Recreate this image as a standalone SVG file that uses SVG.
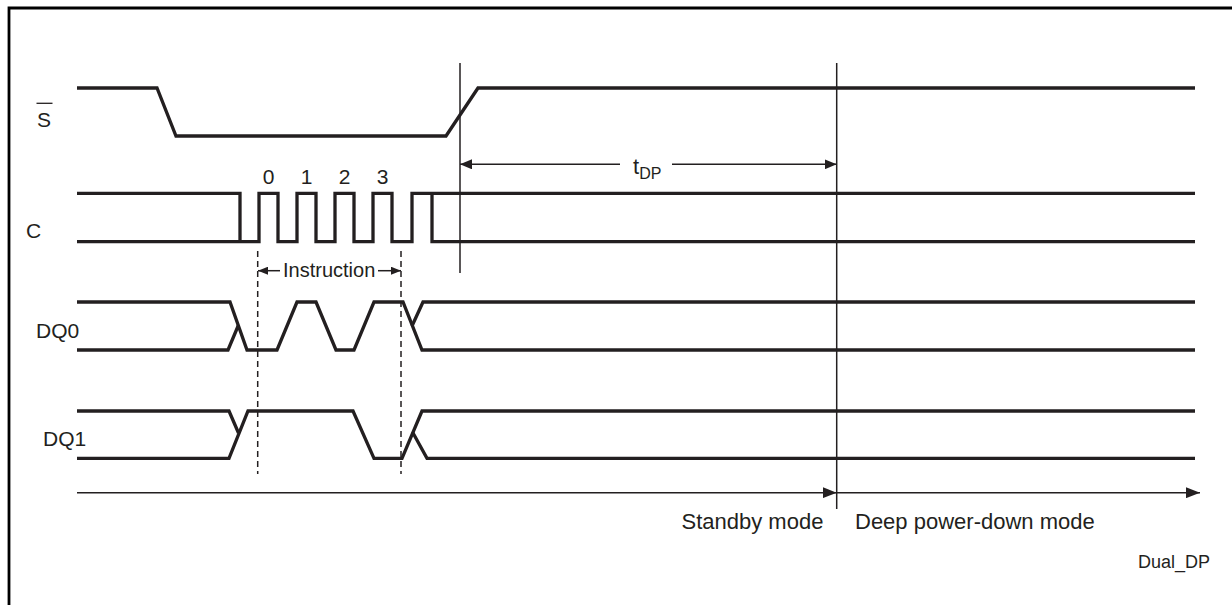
<svg xmlns="http://www.w3.org/2000/svg" width="1232" height="605" viewBox="0 0 1232 605">
<style>
.sig{fill:none;stroke:#231f20;stroke-width:3.3;stroke-linejoin:miter}
.thin{fill:none;stroke:#231f20;stroke-width:1.5}
.dash{fill:none;stroke:#231f20;stroke-width:1.5;stroke-dasharray:6,4}
.frame{fill:none;stroke:#000;stroke-width:2.8}
text{font-family:"Liberation Sans",Arial,Helvetica,sans-serif;fill:#231f20}
.lbl{font-size:21px}
.mode{font-size:22px}
</style>
<defs>
<marker id="ah" viewBox="0 0 12 10" refX="12" refY="5" markerWidth="12" markerHeight="10" markerUnits="userSpaceOnUse" orient="auto"><path d="M0,0 L12,5 L0,10 z" fill="#231f20"/></marker>
<marker id="ahs" viewBox="0 0 10 8" refX="10" refY="4" markerWidth="10" markerHeight="8" markerUnits="userSpaceOnUse" orient="auto"><path d="M0,0 L10,4 L0,8 z" fill="#231f20"/></marker>
<marker id="ahl" viewBox="0 0 14 11" refX="14" refY="5.5" markerWidth="14" markerHeight="11" markerUnits="userSpaceOnUse" orient="auto"><path d="M0,0 L14,5.5 L0,11 z" fill="#231f20"/></marker>
</defs>
<rect width="1232" height="605" fill="#fff"/>
<path class="frame" d="M9,606 V8 H1233"/>

<g id="sig-S">
<text class="lbl" x="44" y="126.5" text-anchor="middle">S</text>
<line x1="36.5" y1="103.3" x2="52.5" y2="103.3" stroke="#231f20" stroke-width="1.3"/>
<path class="sig" d="M77,88 H157 L176,136 H446 L478,88 H1195"/>
</g>

<g id="sig-C">
<text class="lbl" x="26" y="238">C</text>
<path class="sig" d="M77,193.3 H240 V241.7"/>
<path class="sig" d="M77,241.7 H259 V193.3 H278 V241.7 H297 V193.3 H316 V241.7 H335 V193.3 H354 V241.7 H373 V193.3 H392 V241.7 H412 V193.3 H1195"/>
<path class="sig" d="M432,193.3 V241.7 H1195"/>
<text class="lbl" x="268.5" y="184" text-anchor="middle" font-size="20">0</text>
<text class="lbl" x="306.5" y="184" text-anchor="middle" font-size="20">1</text>
<text class="lbl" x="344.5" y="184" text-anchor="middle" font-size="20">2</text>
<text class="lbl" x="382.5" y="184" text-anchor="middle" font-size="20">3</text>
</g>

<g id="sig-DQ0">
<text class="lbl" x="36" y="337.5">DQ0</text>
<path class="sig" d="M77,302 H230 L247,350 H277 L297,302 H316 L336,350 H354 L374,302 H403 L422,350 H1195"/>
<path class="sig" d="M77,350 H228 L238.5,325"/>
<path class="sig" d="M412,326 L423,302 H1195"/>
</g>

<g id="sig-DQ1">
<text class="lbl" x="43" y="446">DQ1</text>
<path class="sig" d="M77,411 H229 L238.5,433"/>
<path class="sig" d="M77,458.3 H229 L248,411 H353 L374,458.3 H402 L422,411 H1195"/>
<path class="sig" d="M412.5,432 L427,458.3 H1195"/>
</g>

<g id="connectors">
<line class="thin" x1="460" y1="63" x2="460" y2="273"/>
<line class="thin" x1="836.7" y1="63" x2="836.7" y2="509"/>
<line class="dash" x1="257.7" y1="251" x2="257.7" y2="474"/>
<line class="dash" x1="401" y1="251" x2="401" y2="474"/>
<path class="thin" d="M620,164.3 H460" marker-end="url(#ah)"/>
<path class="thin" d="M672,164.3 H836.7" marker-end="url(#ah)"/>
<path class="thin" d="M280,270.7 H258" marker-end="url(#ahs)"/>
<path class="thin" d="M378,270.7 H401" marker-end="url(#ahs)"/>
<path class="thin" d="M77,492.7 H836.7" marker-end="url(#ahl)"/>
<path class="thin" d="M836.7,492.7 H1200" marker-end="url(#ahl)"/>
</g>

<g id="labels">
<text x="633" y="173.5" font-size="22">t<tspan font-size="16" dy="5">DP</tspan></text>
<text x="283" y="277" font-size="20">Instruction</text>
<text class="mode" x="681.5" y="529.3">Standby mode</text>
<text class="mode" x="855" y="529.3">Deep power-down mode</text>
<text x="1138" y="568" font-size="18">Dual_DP</text>
</g>
</svg>
